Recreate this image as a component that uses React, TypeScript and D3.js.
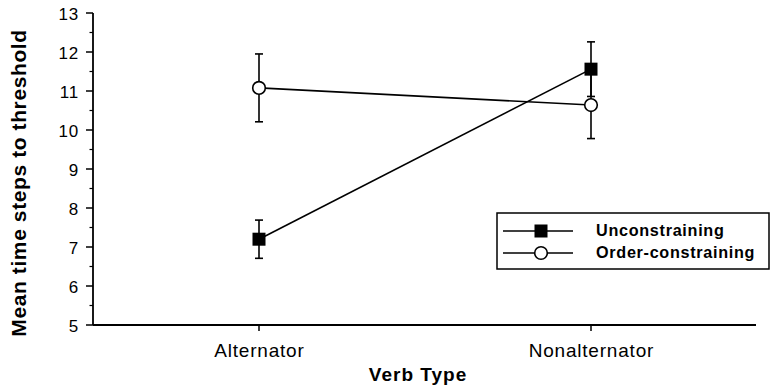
import React from "react";
import * as d3 from "d3";

const categories = ["Alternator", "Nonalternator"];
const seriesNames = ["Unconstraining", "Order-constraining"];
const unconstrainingMean = [7.2, 11.56];
const unconstrainingErr = [0.49, 0.7];
const orderMean = [11.08, 10.64];
const orderErr = [0.87, 0.86];
const yTicks = [5, 6, 7, 8, 9, 10, 11, 12, 13];
const yMinorTicks = [5.5, 6.5, 7.5, 8.5, 9.5, 10.5, 11.5, 12.5];

const W = 777;
const H = 387;
const FONT = "'Liberation Sans', Arial, Helvetica, sans-serif";

export default function App() {
  const y = d3.scaleLinear().domain([5, 13]).range([325, 13]);
  const x = d3.scalePoint<string>().domain(categories).range([259, 591]);
  const axisX = 93;
  const axisEnd = 756;
  const line = d3
    .line<[number, number]>()
    .x((d) => d[0])
    .y((d) => d[1]);

  const series = [
    { name: seriesNames[0], mean: unconstrainingMean, err: unconstrainingErr, marker: "square" },
    { name: seriesNames[1], mean: orderMean, err: orderErr, marker: "circle" },
  ];

  const marker = (kind: string, cx: number, cy: number, key: string) =>
    kind === "square" ? (
      <rect key={key} x={cx - 6.5} y={cy - 6.5} width={13} height={13} fill="#000" />
    ) : (
      <circle key={key} cx={cx} cy={cy} r={6.3} fill="#fff" stroke="#000" strokeWidth={1.6} />
    );

  const legendRows = [231, 253];

  return (
    <svg
      width={W}
      height={H}
      style={{ position: "absolute", left: 0, top: 0, background: "#fff" }}
      fontFamily={FONT}
    >
      <rect x={0} y={0} width={W} height={H} fill="#fff" />
      {/* y axis */}
      <line x1={axisX} x2={axisX} y1={y(13)} y2={y(5)} stroke="#000" strokeWidth={1.8} />
      {yTicks.map((t) => (
        <g key={"yt" + t}>
          <line x1={axisX - 7} x2={axisX} y1={y(t)} y2={y(t)} stroke="#000" strokeWidth={1.5} />
          <text
            x={79}
            y={y(t)}
            dy="0.4em"
            textAnchor="end"
            fontSize={17}
            letterSpacing={0.8}
            fill="#000"
          >
            {t}
          </text>
        </g>
      ))}
      {yMinorTicks.map((t) => (
        <line key={"ym" + t} x1={axisX - 3.5} x2={axisX} y1={y(t)} y2={y(t)} stroke="#000" strokeWidth={1.2} />
      ))}
      {/* x axis */}
      <line x1={axisX} x2={axisEnd} y1={y(5)} y2={y(5)} stroke="#000" strokeWidth={1.8} />
      {categories.map((c) => (
        <g key={"xt" + c}>
          <line x1={x(c)} x2={x(c)} y1={y(5)} y2={y(5) + 6} stroke="#000" strokeWidth={1.5} />
          <text
            x={(x(c) as number) + 0.4}
            y={357}
            textAnchor="middle"
            fontSize={19}
            letterSpacing={0.8}
            fill="#000"
          >
            {c}
          </text>
        </g>
      ))}
      <text
        x={418}
        y={381}
        textAnchor="middle"
        fontSize={19}
        letterSpacing={1}
        fontWeight="bold"
        fill="#000"
      >
        Verb Type
      </text>
      <text
        transform={`translate(26, 183) rotate(-90)`}
        textAnchor="middle"
        fontSize={21}
        letterSpacing={0.6}
        fontWeight="bold"
        fill="#000"
      >
        Mean time steps to threshold
      </text>
      {/* series */}
      {series.map((s) => (
        <g key={s.name}>
          <path
            d={line(categories.map((c, i) => [x(c) as number, y(s.mean[i])])) || ""}
            fill="none"
            stroke="#000"
            strokeWidth={1.6}
          />
          {categories.map((c, i) => {
            const cx = x(c) as number;
            const top = y(s.mean[i] + s.err[i]);
            const bot = y(s.mean[i] - s.err[i]);
            return (
              <g key={c}>
                <line x1={cx} x2={cx} y1={top} y2={bot} stroke="#000" strokeWidth={1.6} />
                <line x1={cx - 4} x2={cx + 4} y1={top} y2={top} stroke="#000" strokeWidth={1.6} />
                <line x1={cx - 4} x2={cx + 4} y1={bot} y2={bot} stroke="#000" strokeWidth={1.6} />
              </g>
            );
          })}
        </g>
      ))}
      {series.map((s) =>
        categories.map((c, i) => marker(s.marker, x(c) as number, y(s.mean[i]), s.name + c))
      )}
      {/* legend */}
      <rect x={497} y={213} width={272} height={56} fill="#fff" stroke="#000" strokeWidth={1.5} />
      {series.map((s, i) => (
        <g key={"lg" + s.name}>
          <line x1={503} x2={573} y1={legendRows[i]} y2={legendRows[i]} stroke="#000" strokeWidth={1.6} />
          {marker(s.marker, 541, legendRows[i], "lm" + i)}
          <text
            x={596}
            y={legendRows[i]}
            dy="0.3em"
            fontSize={16.2}
            letterSpacing={0.7}
            fontWeight="bold"
            fill="#000"
          >
            {s.name}
          </text>
        </g>
      ))}
    </svg>
  );
}
